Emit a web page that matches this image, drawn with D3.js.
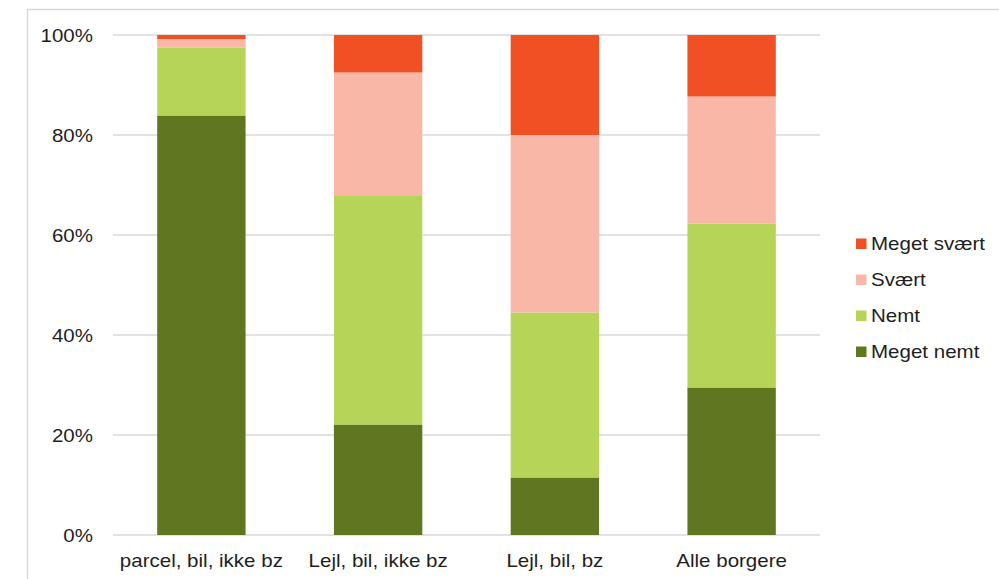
<!DOCTYPE html>
<html>
<head>
<meta charset="utf-8">
<script src="https://cdn.jsdelivr.net/npm/d3@7"></script>
<style>
  html, body { margin: 0; padding: 0; background: #fff; }
  svg { display: block; }
  text { font-family: "Liberation Sans", Arial, sans-serif; fill: #1e1e1e; }
</style>
</head>
<body>
<svg id="chart" width="999" height="579"></svg>
<script>
// Categories along the x axis
const categories = ["parcel, bil, ikke bz", "Lejl, bil, ikke bz", "Lejl, bil, bz", "Alle borgere"];

// Share of answers per category (percent), stacked bottom to top
const megetNemt   = [83.9, 22.1, 11.5, 29.5];
const nemt        = [13.6, 45.7, 33.0, 32.8];
const svaert      = [1.7, 24.7, 35.5, 25.4];
const megetSvaert = [0.8, 7.5, 20.0, 12.3];

const seriesNames = ["Meget nemt", "Nemt", "Svært", "Meget svært"];
const seriesColors = ["#607621", "#b5d458", "#f9b7a8", "#f05024"];
const yTicks = [0, 20, 40, 60, 80, 100];

const rows = categories.map((c, i) => ({
  cat: c,
  "Meget nemt": megetNemt[i],
  "Nemt": nemt[i],
  "Svært": svaert[i],
  "Meget svært": megetSvaert[i]
}));

const svg = d3.select("#chart");
const margin = { left: 113, right: 820, top: 35, bottom: 535 };
const textScale = 1.14;

// Outer frame
svg.append("rect")
  .attr("x", 27.5).attr("y", 9.5)
  .attr("width", 1100).attr("height", 700)
  .attr("fill", "none")
  .attr("stroke", "#d9d9d9")
  .attr("stroke-width", 1.5);

const x = d3.scaleBand()
  .domain(categories)
  .range([margin.left, margin.right])
  .paddingInner(0.5)
  .paddingOuter(0.25);

const y = d3.scaleLinear().domain([0, 100]).range([margin.bottom, margin.top]);

// Horizontal gridlines
svg.append("g")
  .selectAll("line")
  .data(yTicks)
  .join("line")
  .attr("x1", margin.left).attr("x2", margin.right)
  .attr("y1", d => y(d)).attr("y2", d => y(d))
  .attr("stroke", "#d9d9d9")
  .attr("stroke-width", 1.5);

// Y axis labels
svg.append("g")
  .selectAll("text")
  .data(yTicks)
  .join("text")
  .attr("text-anchor", "end")
  .attr("font-size", 18)
  .attr("transform", d => `translate(93,${y(d) + 6.5}) scale(${textScale},1)`)
  .text(d => d + "%");

// Stacked bars
const stack = d3.stack().keys(seriesNames);
const layers = stack(rows);
const color = d3.scaleOrdinal().domain(seriesNames).range(seriesColors);

svg.append("g")
  .selectAll("g")
  .data(layers)
  .join("g")
  .attr("fill", d => color(d.key))
  .selectAll("rect")
  .data(d => d)
  .join("rect")
  .attr("x", d => x(d.data.cat))
  .attr("width", x.bandwidth())
  .attr("y", d => y(d[1]))
  .attr("height", d => y(d[0]) - y(d[1]));

// X axis labels
svg.append("g")
  .selectAll("text")
  .data(categories)
  .join("text")
  .attr("text-anchor", "middle")
  .attr("font-size", 18)
  .attr("transform", d => `translate(${x(d) + x.bandwidth() / 2},566.5) scale(${textScale},1)`)
  .text(d => d);

// Legend (top entry is the top of the stack)
const legendOrder = seriesNames.slice().reverse();
const legend = svg.append("g")
  .selectAll("g")
  .data(legendOrder)
  .join("g")
  .attr("transform", (d, i) => `translate(856,${250 + i * 36})`);

legend.append("rect")
  .attr("x", 0).attr("y", -11.5)
  .attr("width", 10.5).attr("height", 10.5)
  .attr("fill", d => color(d));

legend.append("text")
  .attr("font-size", 18)
  .attr("transform", `translate(15,0) scale(${textScale},1)`)
  .text(d => d);
</script>
</body>
</html>
